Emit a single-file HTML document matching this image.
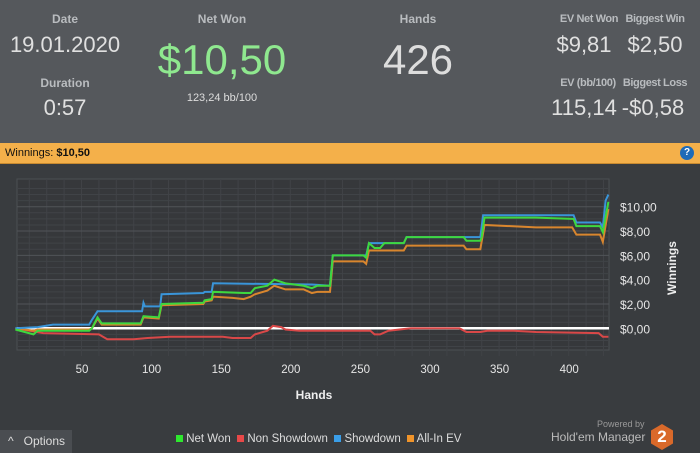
<!DOCTYPE html>
<html><head><meta charset="utf-8"><style>
body{margin:0;width:700px;height:453px;overflow:hidden;background:#393c3f;font-family:"Liberation Sans",sans-serif;position:relative}
.t{position:absolute;transform:translate(-50%,-50%);white-space:nowrap}
.l{color:#b9bcbf;font-size:12px;font-weight:bold}
.r{font-size:11px;letter-spacing:-0.4px}
.v{color:#e0e0e0;font-size:22px}
</style></head><body>
<div style="position:absolute;left:0;top:0;width:700px;height:143px;background:#55585c"></div>
<div class="t l" style="left:65px;top:19px">Date</div>
<div class="t v" style="left:65px;top:45px">19.01.2020</div>
<div class="t l" style="left:65px;top:83px">Duration</div>
<div class="t v" style="left:65px;top:108px">0:57</div>
<div class="t l" style="left:222px;top:19px">Net Won</div>
<div class="t" style="left:222px;top:60px;font-size:42px;color:#8fe88f">$10,50</div>
<div class="t" style="left:222px;top:98px;font-size:11px;color:#ddd">123,24 bb/100</div>
<div class="t l" style="left:418px;top:19px">Hands</div>
<div class="t" style="left:418px;top:60px;font-size:42px;color:#ddd">426</div>
<div class="t l r" style="left:589px;top:19px">EV Net Won</div>
<div class="t v" style="left:584px;top:45px">$9,81</div>
<div class="t l r" style="left:655px;top:19px">Biggest Win</div>
<div class="t v" style="left:655px;top:45px">$2,50</div>
<div class="t l r" style="left:588px;top:83px">EV (bb/100)</div>
<div class="t v" style="left:584px;top:108px">115,14</div>
<div class="t l r" style="left:655px;top:83px">Biggest Loss</div>
<div class="t v" style="left:653px;top:108px">-$0,58</div>
<div style="position:absolute;left:0;top:143px;width:700px;height:20px;background:#f4b04a;border-bottom:1px solid #c88a30;font-size:11px;line-height:20px;color:#111"><span style="padding-left:5px">Winnings: <b>$10,50</b></span></div>
<div style="position:absolute;left:680px;top:146px;width:14px;height:14px;border-radius:50%;background:#1e6bb8;color:#fff;font-size:10px;font-weight:bold;text-align:center;line-height:14px">?</div>
<svg id="c" width="700" height="453" style="position:absolute;left:0;top:0"></svg>
<div class="t" style="left:314px;top:395px;font-size:12px;font-weight:bold;color:#eee">Hands</div>
<div class="t" style="left:672px;top:268px;font-size:12px;font-weight:bold;color:#eee;transform:translate(-50%,-50%) rotate(-90deg)">Winnings</div>
<div style="position:absolute;left:0;top:430px;width:72px;height:23px;background:#4a4d51;color:#ddd;font-size:12px;line-height:23px"><span style="padding:0 10px 0 8px">^</span>Options</div>
<div style="position:absolute;left:176px;top:433px;font-size:11.5px;color:#ddd;white-space:nowrap">
<span><span style="display:inline-block;width:7px;height:7px;background:#2ee82e"></span> Net Won</span>&nbsp;
<span><span style="display:inline-block;width:7px;height:7px;background:#e84848"></span> Non Showdown</span>&nbsp;
<span><span style="display:inline-block;width:7px;height:7px;background:#3a9ee8"></span> Showdown</span>&nbsp;
<span><span style="display:inline-block;width:7px;height:7px;background:#f0942a"></span> All-In EV</span></div>
<div style="position:absolute;left:597px;top:419px;font-size:9px;color:#999">Powered by</div>
<div style="position:absolute;left:551px;top:430px;font-size:12px;color:#bbb">Hold'em Manager</div>
<div style="position:absolute;left:651px;top:424px;width:22px;height:26px;background:#d9692a;clip-path:polygon(50% 0,100% 25%,100% 75%,50% 100%,0 75%,0 25%);color:#fff;font-weight:bold;font-size:17px;text-align:center;line-height:26px">2</div>
<script>
const handsNet=[0,13,16,53,55,59,62,90,92,103,105,135,136,141,142,164,169,172,181,186,194,207,213,217,226,228,250,252,254,258,262,265,279,281,322,324,334,335,337,374,400,401,403,420,422,426];
const valsNet=[-0.1,-0.5,-0.2,-0.2,0,0.9,0.4,0.4,1.0,0.9,2.0,2.1,2.3,2.4,3.0,2.9,2.9,3.3,3.5,4.0,3.7,3.5,3.3,3.5,3.5,6.0,6.0,5.8,7.0,6.6,6.6,7.0,7.0,7.5,7.5,7.2,7.2,7.5,9.1,9.1,9.0,9.0,8.4,8.4,7.9,10.4];
const handsShow=[0,16,27,53,55,59,91,92,93,104,105,135,136,141,142,213,226,228,252,254,279,281,334,336,401,403,420,422,424,426];
const valsShow=[0,0.1,0.3,0.3,0.7,1.4,1.4,2.1,1.8,1.8,2.8,2.9,3.0,3.0,3.7,3.6,3.5,6.0,6.0,7.0,7.0,7.5,7.5,9.3,9.3,8.7,8.7,8.3,10.5,11.0];
const handsEV=[0,13,16,53,55,59,62,90,92,103,105,135,136,141,142,156,164,169,172,181,186,194,207,213,217,226,228,250,252,254,279,281,322,324,334,337,374,400,403,420,422,426];
const valsEV=[0,-0.2,-0.1,-0.1,0,0.8,0.3,0.3,0.9,0.8,1.9,2.0,2.2,2.3,2.6,2.5,2.4,2.6,2.8,3.1,3.5,3.2,3.2,2.9,3.0,3.0,5.5,5.5,5.3,6.4,6.4,6.8,6.8,6.5,6.5,8.5,8.3,8.3,7.7,7.7,7.1,9.8];
const handsNS=[0,20,60,66,85,95,111,149,156,169,172,181,185,191,194,204,255,258,262,268,284,319,324,334,339,358,374,419,422,426];
const valsNS=[0,-0.4,-0.5,-0.9,-0.9,-0.8,-0.7,-0.7,-0.8,-0.8,-0.5,-0.2,0.2,0.1,-0.1,-0.2,-0.2,-0.5,-0.5,-0.2,0,0,-0.3,-0.3,-0.2,-0.2,-0.3,-0.4,-0.7,-0.7];
const xTicks=[50,100,150,200,250,300,350,400];
const yTicks=[0,2,4,6,8,10];
const yTickLabels=["$0,00","$2,00","$4,00","$6,00","$8,00","$10,00"];
const L=17,R=609,T=179,B=350;
const x=h=>15.4+h*1.392;
const y=v=>328.3-v*12.16;
const svg=document.getElementById('c');
const NS='http://www.w3.org/2000/svg';
function mk(t,a){const e=document.createElementNS(NS,t);for(const k in a)e.setAttribute(k,a[k]);svg.appendChild(e);return e;}
const bg=mk('rect',{x:L,y:T,width:R-L,height:B-T,fill:'#36383b',stroke:'#4c4f53'});


for(let h=10;h<=425;h+=12.5){const g=mk('line',{x1:x(h),x2:x(h),y1:T,y2:B+6,stroke:(h%50)?'#404347':'#4f5256','stroke-width':1});

}
for(let v=-1.5;v<=11.6;v+=0.5){const g=mk('line',{x1:L,x2:R,y1:y(v),y2:y(v),stroke:Number.isInteger(v/2)?'#515458':'#404347','stroke-width':1});

}
xTicks.forEach(t=>{const e=mk('text',{x:x(t)-3,y:373,fill:'#e6e6e6','font-size':11.5,'text-anchor':'middle','font-family':'Liberation Sans'});e.textContent=t;

});
yTicks.forEach((t,i)=>{const e=mk('text',{x:620,y:y(t)+5,fill:'#e6e6e6','font-size':12,'font-family':'Liberation Sans'});e.textContent=yTickLabels[i];

});
const z=mk('line',{x1:L,x2:R,y1:y(0),y2:y(0),stroke:'#fff','stroke-width':2.5});


function series(hs,vs,c,n){const p=mk('polyline',{points:hs.map((h,i)=>x(h)+','+y(vs[i])).join(' '),fill:'none',stroke:c,'stroke-width':2});

}
series(handsNS,valsNS,'#d94848','line-non-showdown');
series(handsEV,valsEV,'#d9862e','line-all-in-ev');
series(handsShow,valsShow,'#3a95d9','line-showdown');
series(handsNet,valsNet,'#3ed83e','line-net-won');
</script>
</body></html>
